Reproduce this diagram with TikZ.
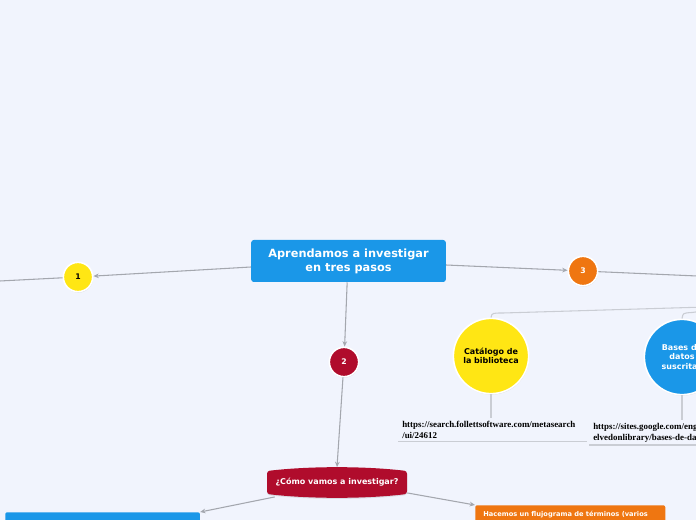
\documentclass[tikz,border=0pt]{standalone}
\usepackage{fontspec}
\setsansfont{DejaVu Sans}
\newfontfamily\urlfont{Liberation Serif}
\usetikzlibrary{positioning,arrows.meta,shadows}

\definecolor{canvas}{HTML}{F1F4FD}
\definecolor{mapblue}{HTML}{1A97E8}
\definecolor{mapyellow}{HTML}{FFE614}
\definecolor{maporange}{HTML}{EF7611}
\definecolor{mapred}{HTML}{B00C2C}
\definecolor{linkgray}{HTML}{A4A7AE}
\definecolor{twiggray}{HTML}{CACDD4}

\begin{document}
\begin{tikzpicture}[
  x=0.75pt, y=-0.75pt,
  topic/.style={rectangle, rounded corners=2pt, fill=mapblue, text=white, align=center, font=\sffamily\bfseries\fontsize{8.5}{10.5}\selectfont, minimum width=146pt, minimum height=31.5pt, inner sep=0pt},
  numdot/.style={circle, draw=white, line width=1.2pt, minimum size=22pt, inner sep=0pt, font=\sffamily\bfseries\fontsize{5.8}{6}\selectfont, drop shadow={opacity=0.25, shadow xshift=0.3pt, shadow yshift=-0.7pt}},
  bigdot/.style={circle, draw=white, line width=1.2pt, minimum size=56.5pt, inner sep=0pt, align=center, font=\sffamily\bfseries\fontsize{6}{7.2}\selectfont, drop shadow={opacity=0.25, shadow xshift=0.3pt, shadow yshift=-0.7pt}},
  urltext/.style={anchor=north west, align=left, text width=135pt, inner xsep=3pt, inner ysep=2pt, font=\urlfont\bfseries\fontsize{6.7}{8.2}\selectfont},
  urlrule/.style={draw=twiggray, line width=0.9pt},
  subbox/.style={rectangle, rounded corners=1.5pt, anchor=north west, minimum height=40pt, inner sep=0pt},
  boxtext/.style={anchor=north west, inner sep=0pt, text=white, font=\sffamily\bfseries\fontsize{5}{6}\selectfont},
  link/.style={draw=linkgray, line width=0.8pt},
  arrow/.style={link, -{Stealth[length=4pt, width=3.5pt]}},
  twig/.style={draw=twiggray, line width=0.8pt}
]
\useasboundingbox (0,0) rectangle (696,520);
\clip (0,0) rectangle (696,520);
\fill[canvas] (0,0) rectangle (696,520);

% Central topic
\node[topic] (main) at (348.5,261) {Aprendamos a investigar\\en tres pasos};

% Numbered steps
\node[numdot, fill=mapyellow] (n1) at (78,277) {1};
\node[numdot, fill=maporange, text=white] (n3) at (583,271) {3};
\node[numdot, fill=mapred, text=white] (n2) at (344,362) {2};
\coordinate (offL) at (-20,282);
\coordinate (offR) at (720,277);

% Step 3 children
\node[bigdot, fill=mapyellow] (cat) at (491,356) {Catálogo de\\la biblioteca};
\node[bigdot, fill=mapblue, text=white] (bas) at (682,357) {Bases de\\datos\\suscritas};
\coordinate (hub) at (740,306);
\coordinate (catbend) at (503,313);
\coordinate (basbend) at (692,312.5);

\node[urltext] (url1) at (398,418) {https://search.follettsoftware.com/metasearch\\/ui/24612};
\node[urltext] (url2) at (589,420) {https://sites.google.com/eng\\elvedonlibrary/bases-de-da};

% Step 2 question
\fill[mapred, rounded corners=2pt, drop shadow={opacity=0.2, shadow xshift=0pt, shadow yshift=-0.8pt}]
  (267,471) .. controls (310,466) and (364,466) .. (407,471) -- (407,494)
  .. controls (364,499) and (310,499) .. (267,494) -- cycle;
\node[minimum width=105pt, minimum height=22pt, inner sep=0pt, text=white, font=\sffamily\bfseries\fontsize{6}{7}\selectfont] (como) at (337,482) {¿Cómo vamos a investigar?};

\node[subbox, fill=mapblue, minimum width=146pt] (boxL) at (5,512) {};
\node[subbox, fill=maporange, minimum width=142.5pt] (flujo) at (475,505) {};
\node[boxtext] (flujotext) at ([xshift=6pt, yshift=-4.5pt]flujo.north west) {Hacemos un flujograma de términos (varios};

% Connectors
\draw[arrow] ([yshift=-4.5pt]main.west) -- (n1);
\draw[link] (n1) -- (offL);
\draw[arrow] ([yshift=-3pt]main.east) -- (n3);
\draw[link] (n3) -- (offR);
\draw[arrow] ([xshift=-1pt]main.south) -- (n2);
\draw[arrow] (n2) -- (como.north);
\draw[arrow] ([xshift=6pt]como.south west) -- (boxL.north east);
\draw[arrow] ([yshift=3pt]como.south east) -- (flujo.north west);

\draw[twig] (hub) -- (catbend) .. controls (492,313) .. (cat.north);
\draw[twig] (hub) -- (basbend) .. controls (683,313) .. (bas.north);
\draw[twig] (cat.south) -- (cat.south |- url1.north);
\draw[twig] (bas.south) -- (bas.south |- url2.north);
\draw[urlrule] (url1.south west) -- (url1.south east);
\draw[urlrule] (url2.south west) -- (url2.south east);

\end{tikzpicture}
\end{document}
